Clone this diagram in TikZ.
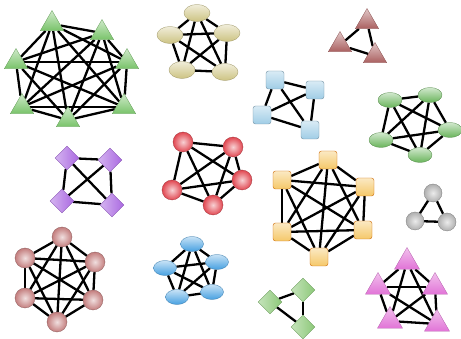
\documentclass[tikz,border=0pt]{standalone}
\usepackage{tikz}
\usetikzlibrary{shapes.geometric,backgrounds}
\definecolor{leafgreen}{RGB}{120,195,105}
\definecolor{khaki}{RGB}{205,195,130}
\definecolor{rosewood}{RGB}{170,95,95}
\definecolor{mossgreen}{RGB}{105,180,90}
\definecolor{skyblue}{RGB}{160,205,230}
\definecolor{lilac}{RGB}{170,105,225}
\definecolor{cherry}{RGB}{225,70,80}
\definecolor{honey}{RGB}{245,200,105}
\definecolor{silver}{RGB}{175,175,175}
\definecolor{oldrose}{RGB}{195,125,125}
\definecolor{azure}{RGB}{70,160,225}
\definecolor{sage}{RGB}{140,200,120}
\definecolor{orchid}{RGB}{225,115,215}
\newcommand{\fullgraph}[2]{%
  \foreach \i in {1,...,#2}{\foreach \j in {1,...,#2}{%
    \ifnum\i<\j \draw[edge] (#1\i) -- (#1\j);\fi}}}

\begin{document}
\begin{tikzpicture}[x=1pt,y=-1pt,
  edge/.style={line width=2.3pt,black},
  tri/.style={regular polygon,regular polygon sides=3,minimum size=27pt,inner sep=0pt,
    top color=#1!35,bottom color=#1,draw=#1!80!black,line width=0.3pt},
  cone/.style={regular polygon,regular polygon sides=3,minimum size=29pt,inner sep=0pt,
    top color=#1!45,bottom color=#1,draw=#1!80!black,line width=0.3pt},
  oval/.style={ellipse,minimum width=26pt,minimum height=17pt,inner sep=0pt,
    top color=#1!30,bottom color=#1,draw=#1!75!black,line width=0.3pt},
  tile/.style={rectangle,rounded corners=2.5pt,minimum size=18pt,inner sep=0pt,
    top color=#1!40,bottom color=#1,draw=#1!70!black,line width=0.4pt},
  gem/.style={diamond,minimum width=24pt,minimum height=24pt,inner sep=0pt,
    left color=#1!50,right color=#1,draw=#1!80!black,line width=0.3pt},
  ball/.style={circle,minimum size=20pt,inner sep=0pt,inner color=#1!25,outer color=#1,
    draw=#1!70!black,line width=0.3pt}]
  \useasboundingbox (0,0) rectangle (461,339);
  % K7, green triangles
  \foreach \n/\x/\y in {1/52/24,2/102/33,3/127/62,4/124/107,5/68/120,6/22/107,7/16/62}
    \node[tri=leafgreen] (ga\n) at (\x,\y) {};
  % K5, khaki ellipses
  \foreach \n/\x/\y in {1/197/13,2/227/33,3/225/72,4/182/70,5/170/35}
    \node[oval=khaki] (kh\n) at (\x,\y) {};
  % K3, brown triangles
  \foreach \n/\x/\y in {1/367/22,2/375/56,3/340/45}
    \node[tri=rosewood] (br\n) at (\x,\y) {};
  % K5, green ellipses
  \foreach \n/\x/\y in {1/390/100,2/430/95,3/450/130,4/420/155,5/381/140}
    \node[oval=mossgreen,minimum width=24pt,minimum height=15pt] (gr\n) at (\x,\y) {};
  % K4, blue tiles
  \foreach \n/\x/\y in {1/275/80,2/315/90,3/310/130,4/262/115}
    \node[tile=skyblue] (bl\n) at (\x,\y) {};
  % K4, purple gems
  \foreach \n/\x/\y in {1/67/158,2/110/160,3/112/205,4/62/201}
    \node[gem=lilac] (pu\n) at (\x,\y) {};
  % K5, red balls
  \foreach \n/\x/\y in {1/183/142,2/233/147,3/242/180,4/213/205,5/172/190}
    \node[ball=cherry] (rd\n) at (\x,\y) {};
  % K6, yellow tiles
  \foreach \n/\x/\y in {1/328/160,2/365/187,3/363/230,4/319/257,5/282/232,6/282/180}
    \node[tile=honey,draw=orange!80!black] (ye\n) at (\x,\y) {};
  % K3, grey balls
  \foreach \n/\x/\y in {1/433/193,2/447/222,3/415/221}
    \node[ball=silver,minimum size=18pt] (gy\n) at (\x,\y) {};
  % K6, rose balls
  \foreach \n/\x/\y in {1/62/237,2/95/262,3/93/300,4/57/322,5/25/298,6/25/258}
    \node[ball=oldrose] (ro\n) at (\x,\y) {};
  % K5, cyan ellipses
  \foreach \n/\x/\y in {1/192/244,2/217/262,3/212/292,4/177/297,5/165/268}
    \node[oval=azure,minimum width=23pt,minimum height=15pt] (cy\n) at (\x,\y) {};
  % K3, green gems
  \foreach \n/\x/\y in {1/303/290,2/303/327,3/270/302}
    \node[gem=sage] (sg\n) at (\x,\y) {};
  % K5, pink cones
  \foreach \n/\x/\y in {1/407/262,2/435/287,3/437/324,4/390/321,5/378/287}
    \node[cone=orchid] (pk\n) at (\x,\y) {};
  % edges behind the nodes
  \begin{scope}[on background layer]
    \fullgraph{ga}{7}
    \fullgraph{kh}{5}
    \fullgraph{br}{3}
    \fullgraph{gr}{5}
    \fullgraph{bl}{4}
    \fullgraph{pu}{4}
    \fullgraph{rd}{5}
    \fullgraph{ye}{6}
    \fullgraph{gy}{3}
    \fullgraph{ro}{6}
    \fullgraph{cy}{5}
    \fullgraph{sg}{3}
    \fullgraph{pk}{5}
  \end{scope}
\end{tikzpicture}
\end{document}
